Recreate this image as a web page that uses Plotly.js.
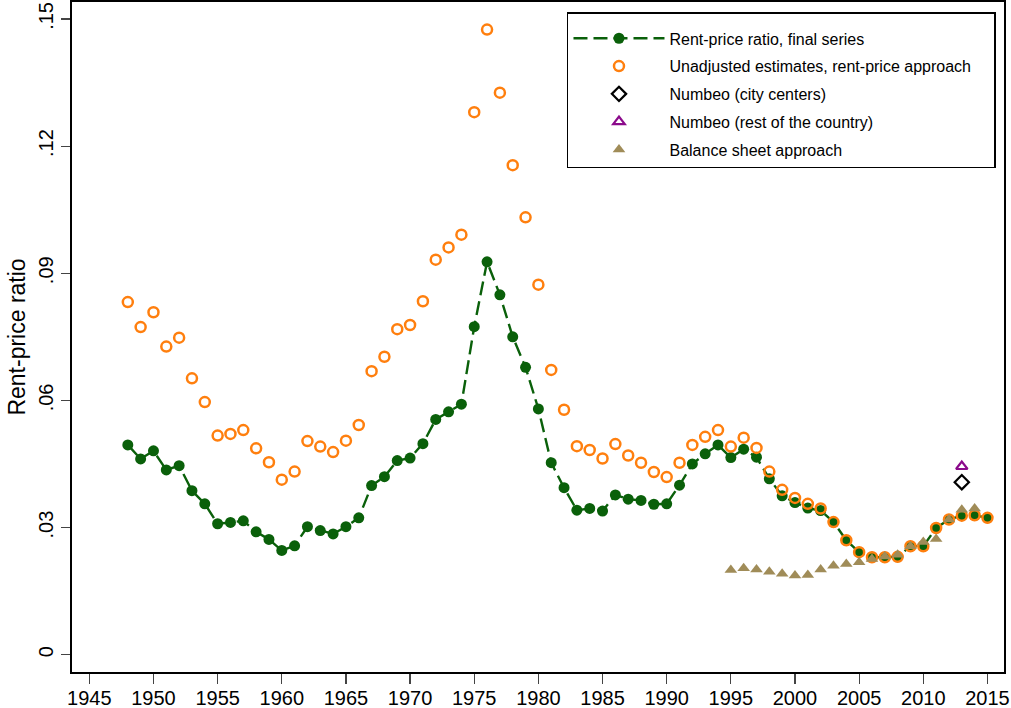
<!DOCTYPE html>
<html>
<head>
<meta charset="utf-8">
<script src="https://cdn.plot.ly/plotly-3.0.1.min.js"></script>
<style>html,body{margin:0;padding:0;background:#fff;}#chart{width:1011px;height:708px;}</style>
</head>
<body>
<div id="chart"></div>
<script>
const finalYears = [1948,1949,1950,1951,1952,1953,1954,1955,1956,1957,1958,1959,1960,1961,1962,1963,1964,1965,1966,1967,1968,1969,1970,1971,1972,1973,1974,1975,1976,1977,1978,1979,1980,1981,1982,1983,1984,1985,1986,1987,1988,1989,1990,1991,1992,1993,1994,1995,1996,1997,1998,1999,2000,2001,2002,2003,2004,2005,2006,2007,2008,2009,2010,2011,2012,2013,2014,2015];
const finalSeries = [0.0495,0.0462,0.0481,0.0436,0.0446,0.0387,0.0356,0.0309,0.0312,0.0316,0.0290,0.0272,0.0246,0.0257,0.0302,0.0293,0.0285,0.0302,0.0323,0.0399,0.0420,0.0458,0.0464,0.0498,0.0555,0.0573,0.0591,0.0774,0.0927,0.0849,0.0750,0.0678,0.0580,0.0453,0.0394,0.0341,0.0345,0.0339,0.0377,0.0367,0.0364,0.0355,0.0356,0.0400,0.0450,0.0474,0.0495,0.0465,0.0485,0.0466,0.0415,0.0375,0.0359,0.0346,0.0340,0.0313,0.0270,0.0242,0.0230,0.0230,0.0231,0.0256,0.0256,0.0299,0.0319,0.0328,0.0329,0.0323];
const unadjYears = finalYears;
const unadjSeries = [0.0832,0.0773,0.0808,0.0727,0.0748,0.0652,0.0596,0.0517,0.0521,0.0530,0.0487,0.0454,0.0413,0.0432,0.0504,0.0491,0.0478,0.0505,0.0542,0.0669,0.0703,0.0768,0.0778,0.0834,0.0932,0.0961,0.0991,0.1280,0.1475,0.1326,0.1155,0.1032,0.0873,0.0672,0.0578,0.0492,0.0483,0.0463,0.0497,0.0470,0.0453,0.0431,0.0419,0.0453,0.0495,0.0514,0.0530,0.0491,0.0512,0.0488,0.0432,0.0389,0.0370,0.0356,0.0345,0.0313,0.0270,0.0242,0.0230,0.0230,0.0231,0.0256,0.0256,0.0299,0.0319,0.0328,0.0329,0.0323];
const numbeoCityYears = [2013];
const numbeoCity = [0.0407];
const numbeoRestYears = [2013];
const numbeoRest = [0.0444];
const balanceYears = [1995,1996,1997,1998,1999,2000,2001,2002,2003,2004,2005,2006,2007,2008,2009,2010,2011,2012,2013,2014];
const balanceSeries = [0.0200,0.0204,0.0201,0.0196,0.0191,0.0187,0.0188,0.0201,0.0210,0.0214,0.0218,0.0226,0.0232,0.0236,0.0256,0.0266,0.0273,0.0319,0.0342,0.0345];
const xTicks = [1945,1950,1955,1960,1965,1970,1975,1980,1985,1990,1995,2000,2005,2010,2015];
const yTicks = [0,0.03,0.06,0.09,0.12,0.15];
const yTickText = ["0",".03",".06",".09",".12",".15"];
const seriesNames = ['Rent-price ratio, final series', 'Unadjusted estimates, rent-price approach\u00a0\u00a0\u00a0\u00a0', 'Numbeo (city centers)', 'Numbeo (rest of the country)', 'Balance sheet approach'];
const yTitle = 'Rent-price ratio\u00a0\u00a0\u00a0';

const FONT = '"Liberation Sans", Arial, sans-serif';
const traces = [
  {x: finalYears, y: finalSeries, name: seriesNames[0], legendgroup: 'a', type: 'scatter', mode: 'lines+markers',
   line: {color: '#0a600a', width: 2.4, dash: '14px,6px'}, marker: {color: '#0a600a', size: 11, symbol: 'circle'}},
  {x: unadjYears, y: unadjSeries, name: seriesNames[1], legendgroup: 'b', type: 'scatter', mode: 'markers',
   marker: {color: '#ff7f0e', size: 10, symbol: 'circle-open', line: {width: 2.5, color: '#ff7f0e'}}},
  {x: numbeoCityYears, y: numbeoCity, name: seriesNames[2], legendgroup: 'c', type: 'scatter', mode: 'markers',
   marker: {color: '#000000', size: 11, symbol: 'diamond-open', line: {width: 2.2, color: '#000000'}}},
  {x: numbeoRestYears, y: numbeoRest, name: seriesNames[3], legendgroup: 'd', type: 'scatter', mode: 'markers',
   marker: {color: '#8b0a8b', size: 10, symbol: 'triangle-up-open', line: {width: 2.2, color: '#8b0a8b'}}},
  {x: balanceYears, y: balanceSeries, name: seriesNames[4], legendgroup: 'e', type: 'scatter', mode: 'markers',
   marker: {color: '#a08c58', size: 11, symbol: 'triangle-up'}}
];

const layout = {
  width: 1011, height: 708,
  paper_bgcolor: '#ffffff', plot_bgcolor: '#ffffff',
  margin: {l: 72, r: 7, t: 2, b: 36},
  font: {family: FONT, color: '#000000'},
  showlegend: true,
  legend: {x: 0.9914, y: 0.985, xanchor: 'right', yanchor: 'top', bgcolor: '#ffffff',
    bordercolor: '#000000', borderwidth: 1.5, font: {size: 16, family: FONT}, itemwidth: 91,
    tracegroupgap: 4, title: {text: '\u00a0', font: {size: 6}}},
  xaxis: {range: [1943.65, 2016.29], tickvals: xTicks, ticks: 'outside', ticklen: 10, tickwidth: 1.2,
    ticklabelstandoff: -3,
    showgrid: false, zeroline: false, showline: true, linecolor: '#000', linewidth: 1.6, mirror: true,
    tickfont: {size: 20, family: FONT}},
  yaxis: {range: [-0.00408, 0.154], tickvals: yTicks, ticktext: yTickText, ticks: 'outside', ticklen: 9, tickwidth: 1.2,
    tickangle: -90, showgrid: false, zeroline: false, showline: true, linecolor: '#000', linewidth: 1.6, mirror: true,
    tickfont: {size: 20, family: FONT},
    title: {text: yTitle, font: {size: 23, family: FONT}, standoff: 3}}
};

Plotly.newPlot('chart', traces, layout, {displayModeBar: false, staticPlot: true});
</script>
</body>
</html>
